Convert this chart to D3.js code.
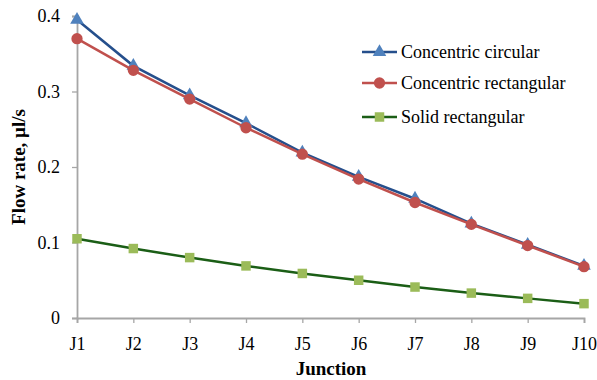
<!DOCTYPE html>
<html>
<head>
<meta charset="utf-8">
<script src="https://cdn.jsdelivr.net/npm/d3@7"></script>
<style>
  html, body { margin: 0; padding: 0; background: #fff; }
  svg { display: block; font-family: "Liberation Serif", "Times New Roman", serif; }
</style>
</head>
<body>
<svg id="chart" width="597" height="380"></svg>
<script>
// Junction labels along the x axis
const junctions = ["J1", "J2", "J3", "J4", "J5", "J6", "J7", "J8", "J9", "J10"];

// Flow rate (µl/s) at each junction for each channel geometry
const concentricCircular = [0.395, 0.334, 0.295, 0.258, 0.219, 0.187, 0.158, 0.125, 0.097, 0.069];
const concentricRectangular = [0.370, 0.328, 0.290, 0.252, 0.217, 0.184, 0.153, 0.124, 0.096, 0.068];
const solidRectangular = [0.105, 0.092, 0.080, 0.069, 0.059, 0.050, 0.041, 0.033, 0.026, 0.019];

const yTicks = [0, 0.1, 0.2, 0.3, 0.4];
const yTickLabels = ["0", "0.1", "0.2", "0.3", "0.4"];

const series = [
  { name: "Concentric circular", values: concentricCircular, line: "#254f8c", marker: "#4f81bd", shape: "triangle" },
  { name: "Concentric rectangular", values: concentricRectangular, line: "#c0504d", marker: "#c0504d", shape: "circle" },
  { name: "Solid rectangular", values: solidRectangular, line: "#1b5e16", marker: "#9bbb59", shape: "square" }
];

const serif = '"Liberation Serif", "Times New Roman", serif';
const svg = d3.select("#chart");
const margin = { left: 77, right: 13, top: 16, bottom: 62 };
const W = 597, H = 380;

const x = d3.scalePoint().domain(junctions).range([margin.left, W - margin.right]);
const y = d3.scaleLinear().domain([0, 0.4]).range([H - margin.bottom, margin.top]);

const axisColor = "#a6a6a6";

// X axis
const xAxis = svg.append("g")
  .attr("transform", `translate(0,${y(0)})`)
  .call(d3.axisBottom(x).tickSize(5).tickPadding(14));
// Y axis
const yAxis = svg.append("g")
  .attr("transform", `translate(${margin.left},0)`)
  .call(d3.axisLeft(y).tickValues(yTicks).tickFormat((d, i) => yTickLabels[i]).tickSize(5).tickPadding(12));

[xAxis, yAxis].forEach(g => {
  g.attr("font-family", serif);
  g.select(".domain").attr("stroke", axisColor).attr("stroke-width", 1.8);
  g.selectAll(".tick line").attr("stroke", axisColor).attr("stroke-width", 1.3);
  g.selectAll(".tick text").attr("fill", "#000").style("font-size", "18px")
    .style("font-family", serif);
});

// Axis titles
svg.append("text")
  .attr("x", 331)
  .attr("y", 375)
  .attr("text-anchor", "middle")
  .style("font-size", "19px").style("font-weight", "bold")
  .text("Junction");

svg.append("text")
  .attr("transform", `translate(25,${(y(0) + y(0.4)) / 2}) rotate(-90)`)
  .attr("text-anchor", "middle")
  .style("font-size", "19px").style("font-weight", "bold")
  .text("Flow rate, µl/s");

const symbolFor = {
  triangle: d3.symbol().type(d3.symbolTriangle).size(80),
  circle: d3.symbol().type(d3.symbolCircle).size(100),
  square: d3.symbol().type(d3.symbolSquare).size(90)
};

const line = d3.line().x((d, i) => x(junctions[i])).y(d => y(d));

series.forEach(s => {
  const g = svg.append("g");
  g.append("path")
    .attr("d", line(s.values))
    .attr("fill", "none")
    .attr("stroke", s.line)
    .attr("stroke-width", 2.5);
  g.selectAll("path.mk")
    .data(s.values)
    .join("path")
    .attr("class", "mk")
    .attr("transform", (d, i) => `translate(${x(junctions[i])},${y(d)})`)
    .attr("d", symbolFor[s.shape]())
    .attr("fill", s.marker);
});

// Legend
const legend = svg.append("g");
const legendRows = [52, 83, 117];
series.forEach((s, i) => {
  const ly = legendRows[i];
  legend.append("line")
    .attr("x1", 362).attr("x2", 397).attr("y1", ly).attr("y2", ly)
    .attr("stroke", s.line).attr("stroke-width", 2.5);
  legend.append("path")
    .attr("transform", `translate(379.5,${ly})`)
    .attr("d", symbolFor[s.shape]())
    .attr("fill", s.marker);
  legend.append("text")
    .attr("x", 401).attr("y", ly + 6)
    .style("font-size", "18px")
    .text(s.name);
});
</script>
</body>
</html>
